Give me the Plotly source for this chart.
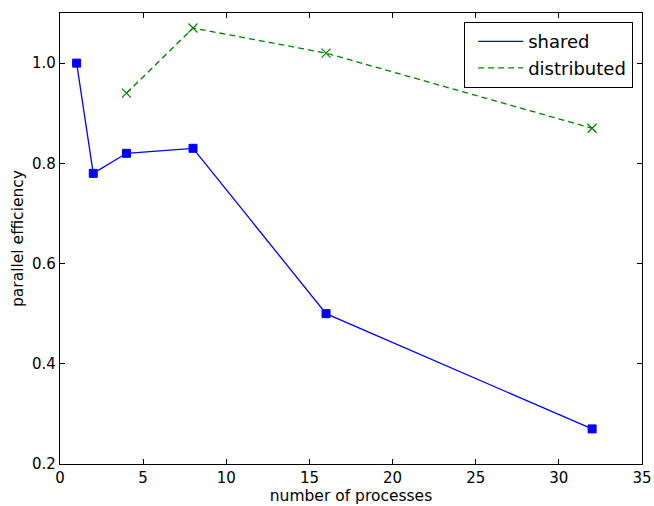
import plotly.graph_objects as go

shared_procs = [1, 2, 4, 8, 16, 32]
shared_eff = [1.0, 0.78, 0.82, 0.83, 0.50, 0.27]
dist_procs = [4, 8, 16, 32]
dist_eff = [0.94, 1.07, 1.02, 0.87]

x_ticks = [0, 5, 10, 15, 20, 25, 30, 35]
y_ticks = [0.2, 0.4, 0.6, 0.8, 1.0]
y_tick_labels = ["0.2", "0.4", "0.6", "0.8", "1.0"]

BLUE = "#0000ff"
GREEN = "#008000"
FONT = "DejaVu Sans"

fig = go.Figure()
fig.add_trace(go.Scatter(x=shared_procs, y=shared_eff, mode="lines+markers",
                         line=dict(color=BLUE, width=1.3),
                         marker=dict(symbol="square", size=8, color=BLUE,
                                     line=dict(color=BLUE, width=1)),
                         showlegend=False))
fig.add_trace(go.Scatter(x=dist_procs, y=dist_eff, mode="lines+markers",
                         line=dict(color=GREEN, width=1.3, dash="6px,4px"),
                         marker=dict(symbol="x-thin", size=9, color=GREEN,
                                     line=dict(color=GREEN, width=1.2)),
                         showlegend=False))
# legend entries (line only, like the reference)
fig.add_trace(go.Scatter(x=[None], y=[None], mode="lines", name="shared",
                         line=dict(color=BLUE, width=1.3)))
fig.add_trace(go.Scatter(x=[None], y=[None], mode="lines", name="distributed",
                         line=dict(color=GREEN, width=1.3, dash="6px,4px")))

axis_common = dict(showgrid=False, zeroline=False, showline=True, mirror="ticks",
                   linecolor="black", linewidth=1.2, ticks="inside", ticklen=5,
                   tickcolor="black", tickwidth=1, automargin=False,
                   tickfont=dict(family=FONT, size=15, color="black"))

fig.update_xaxes(range=[0, 35], tickvals=x_ticks,
                 title=dict(text="number of processes",
                            font=dict(family=FONT, size=15.5, color="black"),
                            standoff=0),
                 **axis_common)
fig.update_yaxes(range=[0.2, 1.1], tickvals=y_ticks, ticktext=y_tick_labels,
                 title=dict(text="parallel efficiency",
                            font=dict(family=FONT, size=15.5, color="black"),
                            standoff=4),
                 **axis_common)

fig.update_layout(
    width=654, height=506,
    margin=dict(l=60, r=12, t=13, b=42),
    paper_bgcolor="white", plot_bgcolor="white",
    font=dict(family=FONT, color="black"),
    legend=dict(x=0.9845, y=0.98, xanchor="right", yanchor="top",
                bordercolor="black", borderwidth=1.2, bgcolor="white",
                font=dict(family=FONT, size=18, color="black"),
                itemwidth=45, indentation=8, tracegroupgap=0),
)

fig.write_html("out.html",
               config={"displayModeBar": False},
               post_script="document.body.style.margin='0';"
                           "document.body.style.overflow='hidden';")
